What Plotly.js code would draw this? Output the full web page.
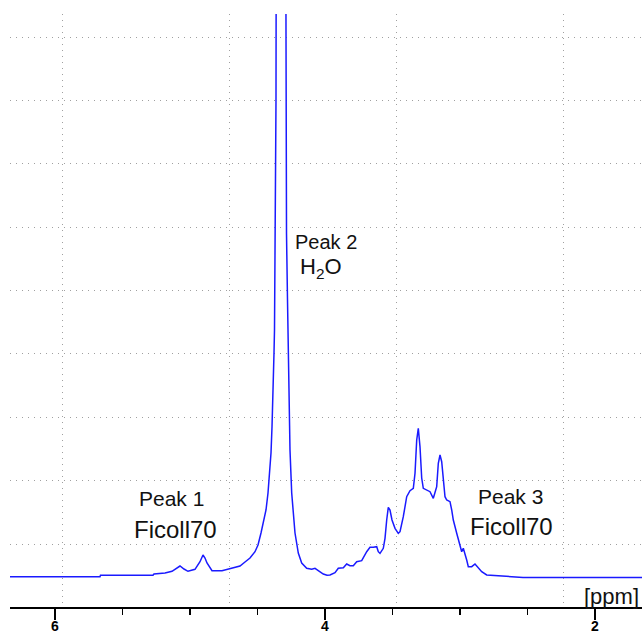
<!DOCTYPE html>
<html>
<head>
<meta charset="utf-8">
<script src="https://cdn.plot.ly/plotly-3.0.1.min.js"></script>
<style>html,body{margin:0;padding:0;background:#fff;}#chart{width:642px;height:631px;}</style>
</head>
<body>
<div id="chart"></div>
<script>
// Chemical shift (ppm) and intensity (arbitrary units, baseline ~0)
var ppm = [6.3333, 5.6667, 5.6630, 5.2741, 5.2667, 5.1852, 5.1333, 5.1037, 5.0741, 5.0444,
  5.0148, 4.9630, 4.9259, 4.9037, 4.8889, 4.8741, 4.8370, 4.7630, 4.7185, 4.6296,
  4.5926, 4.5556, 4.5185, 4.4963, 4.4741, 4.4519, 4.4370, 4.4222, 4.4074, 4.4000,
  4.3926, 4.3852, 4.3778, 4.3741, 4.3704, 4.3681, 4.3630, 4.3556, 4.3259, 4.2963,
  4.2889, 4.2852, 4.2778, 4.2741, 4.2667, 4.2593, 4.2467, 4.2348, 4.2222, 4.1978,
  4.1726, 4.1356, 4.0985, 4.0741, 4.0370, 4.0126, 3.9852, 3.9630, 3.9259, 3.9015,
  3.8644, 3.8393, 3.8148, 3.7904, 3.7652, 3.7281, 3.6911, 3.6667, 3.6422, 3.6170,
  3.6052, 3.5926, 3.5681, 3.5556, 3.5430, 3.5311, 3.5185, 3.5037, 3.4815, 3.4570,
  3.4444, 3.4200, 3.3948, 3.3704, 3.3459, 3.3333, 3.3207, 3.3089, 3.2963, 3.2837,
  3.2719, 3.2467, 3.2222, 3.1978, 3.1726, 3.1607, 3.1481, 3.1356, 3.1237, 3.1111,
  3.0985, 3.0741, 3.0615, 3.0496, 3.0244, 3.0000, 2.9874, 2.9756, 2.9630, 2.9504,
  2.9385, 2.9133, 2.8889, 2.8644, 2.8393, 2.8022, 2.7281, 2.5556, 2.5333, 1.6519];
var intensity = [0.3, 0.3, 1.7, 1.7, 3, 4, 5.7, 8.5, 11, 8,
  5.7, 7.7, 15.3, 22, 19, 14, 6.3, 6.3, 7.7, 11,
  15, 19, 25.3, 32, 44, 57, 67, 84, 110, 124,
  150, 177, 224, 247, 327, 473, 477, 1200, 3000, 1200,
  545, 344, 277, 234, 167, 127, 84, 60, 44, 24,
  14, 8.7, 7.7, 8.7, 5, 3, 1.8, 2, 4.3, 8.7,
  9.3, 13, 11.3, 11.3, 15.3, 16.3, 25.3, 29.7, 29.7, 30.3,
  25.3, 23.7, 28.7, 38.7, 57, 69.7, 67, 57, 48.7, 43.7,
  45.3, 60.3, 80.3, 86.3, 88.7, 103.7, 137, 148.7, 130.3, 99,
  88.7, 87, 85.3, 78.7, 90.3, 113.7, 122, 115.3, 97, 80.3,
  77, 75.3, 67, 57, 43.7, 32, 25.3, 28.7, 23.7, 17,
  10.3, 10.3, 13, 8.7, 5.3, 2, 1.3, 0.3, -0.5, -0.5];

var xTickVals = [6, 4, 2];
var xTickText = ['6', '4', '2'];
var labels = [
  {text: 'Peak 1', ppm: 5.137, y: 79, size: 21},
  {text: 'Ficoll70', ppm: 5.104, y: 48, size: 24},
  {text: 'Peak 2', ppm: 3.989, y: 335, size: 20},
  {text: 'H<sub>2</sub>O', ppm: 4.030, y: 309.5, size: 22},
  {text: 'Peak 3', ppm: 2.626, y: 81, size: 21},
  {text: 'Ficoll70', ppm: 2.615, y: 51, size: 24}
];

var xRange = [6.3333, 1.6519];
var font = 'Liberation Sans, Arial, sans-serif';
var gridColor = '#a0a0a0';
var gridDash = '1px,5px';

var traces = [
  {x: ppm, y: intensity, type: 'scatter', mode: 'lines',
   line: {color: '#1a1aff', width: 1.5}, hoverinfo: 'skip', showlegend: false},
  {x: [null], y: [null], xaxis: 'x2', yaxis: 'y', type: 'scatter', mode: 'lines',
   hoverinfo: 'skip', showlegend: false}
];

var annotations = labels.map(function (l) {
  return {x: l.ppm, y: l.y, xref: 'x', yref: 'y', text: l.text, showarrow: false,
    xanchor: 'center', yanchor: 'middle', font: {family: font, size: l.size, color: '#111'}};
});
annotations.push({x: 1, y: -19, xref: 'paper', yref: 'y', text: '[ppm]', showarrow: false,
  xanchor: 'right', yanchor: 'middle', xshift: -1, font: {family: font, size: 22, color: '#111'}});

var layout = {
  width: 642, height: 631,
  margin: {l: 10, r: 0, t: 14, b: 24, pad: 0},
  paper_bgcolor: '#fff', plot_bgcolor: '#fff',
  showlegend: false,
  xaxis: {
    range: xRange, autorange: false,
    tickmode: 'array', tickvals: xTickVals, ticktext: xTickText,
    showgrid: false, zeroline: false,
    showline: true, linecolor: '#000', linewidth: 1.5,
    ticks: 'outside', ticklen: 11, tickwidth: 1.5, tickcolor: '#000',
    ticklabelstandoff: -5,
    tickfont: {family: font, size: 14, color: '#000', weight: 'bold'},
    minor: {tickmode: 'linear', tick0: 0, dtick: 0.5, ticks: 'outside', ticklen: 6,
            tickwidth: 1.5, tickcolor: '#000', showgrid: false}
  },
  xaxis2: {
    overlaying: 'x', anchor: 'y', side: 'bottom',
    range: xRange, autorange: false,
    tickmode: 'linear', tick0: 5.941, dtick: 1.2355,
    showgrid: true, gridcolor: gridColor, griddash: gridDash, gridwidth: 1,
    ticks: '', showticklabels: false, showline: false, zeroline: false
  },
  yaxis: {
    range: [-30, 563], autorange: false,
    tickmode: 'linear', tick0: 33, dtick: 63.375,
    showgrid: true, gridcolor: gridColor, griddash: gridDash, gridwidth: 1,
    showticklabels: false, ticks: '', showline: false, zeroline: false
  },
  annotations: annotations
};

Plotly.newPlot('chart', traces, layout, {staticPlot: true, displayModeBar: false});
</script>
</body>
</html>
